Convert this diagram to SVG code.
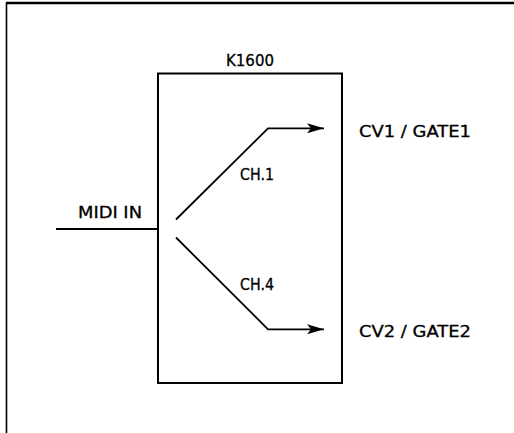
<svg xmlns="http://www.w3.org/2000/svg" width="514" height="433" viewBox="0 0 514 433">
<style>
.t{font-family:"DejaVu Sans","Liberation Sans",sans-serif;font-size:15px;fill:#000;stroke:#000;stroke-width:0.3;}
.ln{stroke:#000;stroke-width:1.8;fill:none;}
</style>
<defs>
<marker id="arr" markerUnits="userSpaceOnUse" markerWidth="18" markerHeight="10" refX="17" refY="5" orient="auto">
<path d="M0,0 L17,5 L0,10 L4,5 Z" fill="#000"/>
</marker>
</defs>
<rect width="514" height="433" fill="#fff"/>
<g id="frame">
<path d="M6.5,433 V3 H514" fill="none" stroke="#000" stroke-width="1.6"/>
<line x1="6" y1="3" x2="514" y2="3" stroke="#000" stroke-width="2.6"/>
</g>
<g id="k1600">
<rect x="158" y="73.5" width="184" height="309.5" fill="none" stroke="#000" stroke-width="2"/>
<text class="t" x="226" y="65.5" textLength="48" lengthAdjust="spacingAndGlyphs">K1600</text>
</g>
<g id="midi-in">
<text class="t" x="78" y="217.5" textLength="64" lengthAdjust="spacingAndGlyphs">MIDI IN</text>
</g>
<g id="cv1">
<text class="t" x="359" y="136.5" textLength="112" lengthAdjust="spacingAndGlyphs">CV1 / GATE1</text>
</g>
<g id="cv2">
<text class="t" x="359" y="336.5" textLength="112" lengthAdjust="spacingAndGlyphs">CV2 / GATE2</text>
</g>
<g id="connectors">
<line class="ln" x1="56" y1="229" x2="158" y2="229"/>
<polyline class="ln" points="176,219.5 268,128.3 324,128.3" marker-end="url(#arr)"/>
<polyline class="ln" points="176,237.5 268,329.3 324,329.3" marker-end="url(#arr)"/>
<text class="t" x="240" y="180" textLength="34" lengthAdjust="spacingAndGlyphs">CH.1</text>
<text class="t" x="240" y="289.5" textLength="34" lengthAdjust="spacingAndGlyphs">CH.4</text>
</g>
</svg>
